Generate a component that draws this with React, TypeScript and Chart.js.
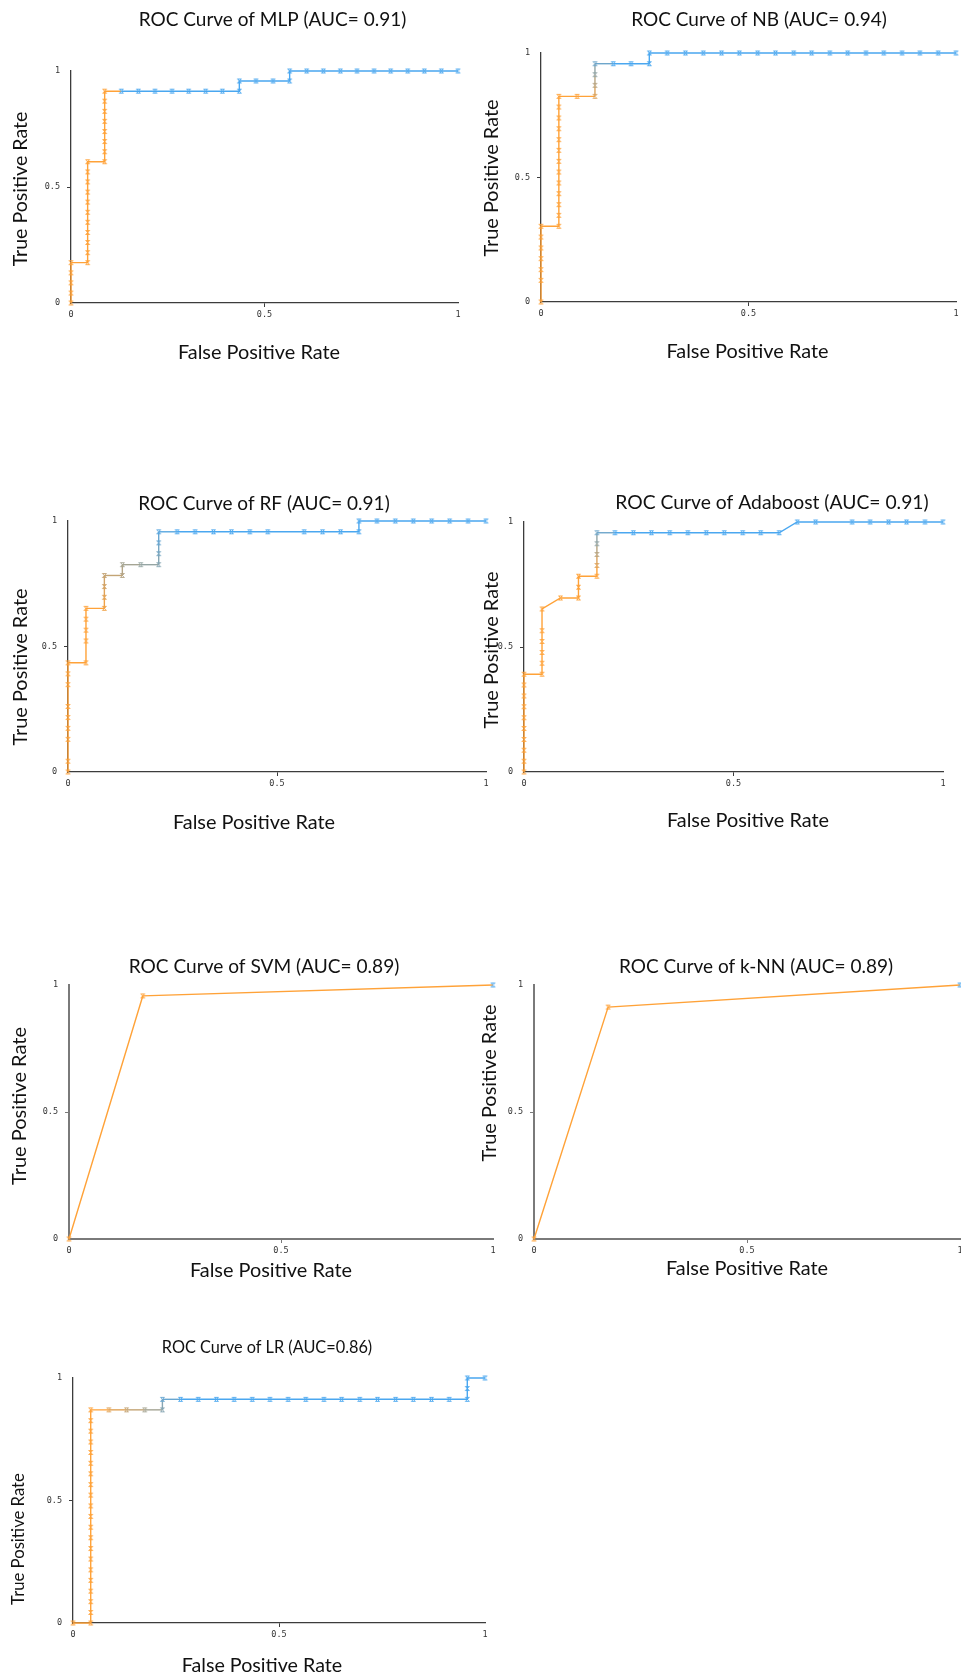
import React, { useEffect, useRef } from "react";
import { Chart, registerables } from "chart.js";

Chart.register(...registerables);

// ---------- data: [false positive rate, true positive rate] ----------
const MLP_ROC: number[][] = [
  [0, 0], [0, 0.043], [0, 0.087], [0, 0.13], [0, 0.174],
  [0.043, 0.174], [0.043, 0.217], [0.043, 0.261], [0.043, 0.304], [0.043, 0.348], [0.043, 0.391],
  [0.043, 0.435], [0.043, 0.478], [0.043, 0.522], [0.043, 0.565], [0.043, 0.609],
  [0.087, 0.609], [0.087, 0.652], [0.087, 0.696], [0.087, 0.739], [0.087, 0.783], [0.087, 0.826],
  [0.087, 0.87], [0.087, 0.913],
  [0.13, 0.913], [0.174, 0.913], [0.217, 0.913], [0.261, 0.913], [0.304, 0.913], [0.348, 0.913],
  [0.391, 0.913], [0.435, 0.913],
  [0.435, 0.957], [0.478, 0.957], [0.522, 0.957], [0.565, 0.957],
  [0.565, 1], [0.609, 1], [0.652, 1], [0.696, 1], [0.739, 1], [0.783, 1], [0.826, 1], [0.87, 1],
  [0.913, 1], [0.957, 1], [1, 1],
];

const NB_ROC: number[][] = [
  [0, 0], [0, 0.087], [0, 0.13], [0, 0.174], [0, 0.217], [0, 0.261], [0, 0.304],
  [0.043, 0.304], [0.043, 0.348], [0.043, 0.391], [0.043, 0.435], [0.043, 0.478], [0.043, 0.522],
  [0.043, 0.565], [0.043, 0.609], [0.043, 0.652], [0.043, 0.696], [0.043, 0.739], [0.043, 0.783],
  [0.043, 0.826],
  [0.087, 0.826], [0.13, 0.826],
  [0.13, 0.87], [0.13, 0.913], [0.13, 0.957],
  [0.174, 0.957], [0.217, 0.957], [0.261, 0.957],
  [0.261, 1], [0.304, 1], [0.348, 1], [0.391, 1], [0.435, 1], [0.478, 1], [0.522, 1], [0.565, 1],
  [0.609, 1], [0.652, 1], [0.696, 1], [0.739, 1], [0.783, 1], [0.826, 1], [0.87, 1], [0.913, 1],
  [0.957, 1], [1, 1],
];

const RF_ROC: number[][] = [
  [0, 0], [0, 0.043], [0, 0.13], [0, 0.174], [0, 0.217], [0, 0.261], [0, 0.348], [0, 0.391], [0, 0.435],
  [0.043, 0.435], [0.043, 0.522], [0.043, 0.565], [0.043, 0.609], [0.043, 0.652],
  [0.087, 0.652], [0.087, 0.696], [0.087, 0.739], [0.087, 0.783],
  [0.13, 0.783], [0.13, 0.826],
  [0.174, 0.826], [0.217, 0.826],
  [0.217, 0.87], [0.217, 0.913], [0.217, 0.957],
  [0.261, 0.957], [0.304, 0.957], [0.348, 0.957], [0.391, 0.957], [0.435, 0.957], [0.478, 0.957],
  [0.565, 0.957], [0.609, 0.957], [0.652, 0.957], [0.696, 0.957],
  [0.696, 1], [0.739, 1], [0.783, 1], [0.826, 1], [0.87, 1], [0.913, 1], [0.957, 1], [1, 1],
];

const ADA_ROC: number[][] = [
  [0, 0], [0, 0.043], [0, 0.087], [0, 0.13], [0, 0.174], [0, 0.217], [0, 0.261], [0, 0.304],
  [0, 0.348], [0, 0.391],
  [0.043, 0.391], [0.043, 0.435], [0.043, 0.478], [0.043, 0.522], [0.043, 0.565], [0.043, 0.652],
  [0.087, 0.696], [0.13, 0.696],
  [0.13, 0.739], [0.13, 0.783],
  [0.174, 0.783],
  [0.174, 0.826], [0.174, 0.87], [0.174, 0.913], [0.174, 0.957],
  [0.217, 0.957], [0.261, 0.957], [0.304, 0.957], [0.348, 0.957], [0.391, 0.957], [0.435, 0.957],
  [0.478, 0.957], [0.522, 0.957], [0.565, 0.957], [0.609, 0.957],
  [0.652, 1], [0.696, 1], [0.783, 1], [0.826, 1], [0.87, 1], [0.913, 1], [0.957, 1], [1, 1],
];

const SVM_ROC: number[][] = [[0, 0], [0.174, 0.957], [1, 1]];

const KNN_ROC: number[][] = [[0, 0], [0.174, 0.913], [1, 1]];

const LR_ROC: number[][] = [
  [0, 0], [0.043, 0],
  [0.043, 0.043], [0.043, 0.087], [0.043, 0.13], [0.043, 0.174], [0.043, 0.217], [0.043, 0.261],
  [0.043, 0.304], [0.043, 0.348], [0.043, 0.391], [0.043, 0.435], [0.043, 0.478], [0.043, 0.522],
  [0.043, 0.565], [0.043, 0.609], [0.043, 0.652], [0.043, 0.696], [0.043, 0.739], [0.043, 0.783],
  [0.043, 0.826], [0.043, 0.87],
  [0.087, 0.87], [0.13, 0.87], [0.174, 0.87], [0.217, 0.87],
  [0.217, 0.913],
  [0.261, 0.913], [0.304, 0.913], [0.348, 0.913], [0.391, 0.913], [0.435, 0.913], [0.478, 0.913],
  [0.522, 0.913], [0.565, 0.913], [0.609, 0.913], [0.652, 0.913], [0.696, 0.913], [0.739, 0.913],
  [0.783, 0.913], [0.826, 0.913], [0.87, 0.913], [0.913, 0.913], [0.957, 0.913],
  [0.957, 0.957], [0.957, 1], [1, 1],
];

const TITLES = [
  "ROC Curve of MLP (AUC= 0.91)",
  "ROC Curve of NB (AUC= 0.94)",
  "ROC Curve of RF (AUC= 0.91)",
  "ROC Curve of Adaboost (AUC= 0.91)",
  "ROC Curve of SVM (AUC= 0.89)",
  "ROC Curve of k-NN (AUC= 0.89)",
  "ROC Curve of LR (AUC=0.86)",
];
const SERIES = [MLP_ROC, NB_ROC, RF_ROC, ADA_ROC, SVM_ROC, KNN_ROC, LR_ROC];
const X_TITLE = "False Positive Rate";
const Y_TITLE = "True Positive Rate";
const AXIS_MIN = 0;
const AXIS_MAX = 1;
const AXIS_STEP = 0.5;

// ---------- styles / layout (page pixel positions, text lengths) ----------
const ORANGE = [255, 162, 56];
const BLUE = [74, 167, 240];
const BLEND = [[23, 24], [20, 25], [13, 25], [20, 25], [1, 2], [1, 2], [21, 27]];

const LAYOUT = [
  { x0: 71, x1: 458, yTop: 71, yBot: 303, tCx: 272.5, tCy: 19, tLen: 268, yCx: 21, yCy: 189, yLen: 155, xCx: 259, xCy: 353, xLen: 162, axis: "#3c3c3c", axisW: 1.3 },
  { x0: 541, x1: 956, yTop: 53, yBot: 302, tCx: 759, tCy: 19, tLen: 255, yCx: 492, yCy: 178, yLen: 157, xCx: 747.5, xCy: 352, xLen: 162, axis: "#3c3c3c", axisW: 1.3 },
  { x0: 68, x1: 486, yTop: 521, yBot: 772, tCx: 264, tCy: 503, tLen: 251, yCx: 21, yCy: 667, yLen: 157, xCx: 254, xCy: 823, xLen: 162, axis: "#3c3c3c", axisW: 1.3 },
  { x0: 524, x1: 943, yTop: 522, yBot: 772, tCx: 772, tCy: 503, tLen: 313, yCx: 492, yCy: 650, yLen: 157, xCx: 748, xCy: 821, xLen: 162, axis: "#3c3c3c", axisW: 1.3 },
  { x0: 69, x1: 493, yTop: 985, yBot: 1239, tCx: 264, tCy: 966, tLen: 271, yCx: 20, yCy: 1106, yLen: 158, xCx: 271, xCy: 1271, xLen: 162, axis: "#7a7a7a", axisW: 2 },
  { x0: 534, x1: 960, yTop: 985, yBot: 1239, tCx: 756, tCy: 966, tLen: 274, yCx: 490, yCy: 1083, yLen: 157, xCx: 747, xCy: 1269, xLen: 162, axis: "#7a7a7a", axisW: 2 },
  { x0: 73, x1: 485, yTop: 1378, yBot: 1623, tCx: 267, tCy: 1348, tLen: 211, yCx: 19, yCy: 1539, yLen: 132, xCx: 262, xCy: 1666, xLen: 161, axis: "#3c3c3c", axisW: 1.3 },
];

const TEXT_FONT = 'Lato, "Noto Sans", sans-serif';
const TICK_FONT = '"DejaVu Sans Mono", monospace';

let measureCtx: CanvasRenderingContext2D | null = null;
function fitFontSize(text: string, targetWidth: number): number {
  if (!measureCtx) measureCtx = document.createElement("canvas").getContext("2d");
  if (!measureCtx) return 20;
  measureCtx.font = `20px ${TEXT_FONT}`;
  const w = measureCtx.measureText(text).width || 1;
  return Math.round((20 * targetWidth) / w * 10) / 10;
}

function mixColor(i: number, blend: number[]): string {
  const [a, b] = blend;
  const t = Math.max(0, Math.min(1, (i - a) / (b - a)));
  const c = ORANGE.map((o, k) => Math.round(o + (BLUE[k] - o) * t));
  return `rgb(${c[0]},${c[1]},${c[2]})`;
}

const markerCache: Record<string, HTMLCanvasElement> = {};
function hourglassMarker(color: string): HTMLCanvasElement {
  if (markerCache[color]) return markerCache[color];
  const c = document.createElement("canvas");
  c.width = 7;
  c.height = 7;
  const g = c.getContext("2d");
  if (g) {
    g.strokeStyle = color;
    g.globalAlpha = 0.9;
    g.lineWidth = 1;
    g.beginPath();
    g.moveTo(1.5, 1.5); g.lineTo(5.5, 1.5);
    g.moveTo(1.5, 5.5); g.lineTo(5.5, 5.5);
    g.moveTo(1.5, 1.5); g.lineTo(5.5, 5.5);
    g.moveTo(5.5, 1.5); g.lineTo(1.5, 5.5);
    g.stroke();
  }
  markerCache[color] = c;
  return c;
}

function RocPanel({ index }: { index: number }) {
  const ref = useRef<HTMLCanvasElement | null>(null);
  const lay = LAYOUT[index];
  const tSize = fitFontSize(TITLES[index], lay.tLen);
  const ySize = fitFontSize(Y_TITLE, lay.yLen);
  const xSize = fitFontSize(X_TITLE, lay.xLen);
  const lhT = tSize * 1.2;
  const L = Math.floor(lay.yCx - 14);
  const T = Math.round(lay.tCy - lhT / 2);
  const W = Math.round(2 * (lay.tCx - L));
  const H = Math.round(lay.xCy + 14 - T);
  const padRight = L + W - lay.x1;
  const yw = lay.x0 - L;
  const xh = T + H - lay.yBot;
  const titleBottom = lay.yTop - (T + lhT);

  useEffect(() => {
    const canvas = ref.current;
    if (!canvas) return;
    const data = SERIES[index];
    const blend = BLEND[index];
    const pointColors = data.map((_, i) => mixColor(i, blend));
    const markers = pointColors.map((c) => hourglassMarker(c));

    const axisTitles = {
      id: "axisTitles" + index,
      afterDraw(chart: any) {
        const ctx = chart.ctx;
        ctx.save();
        ctx.fillStyle = "#111";
        ctx.textAlign = "center";
        ctx.textBaseline = "middle";
        ctx.font = `${ySize}px ${TEXT_FONT}`;
        ctx.translate(lay.yCx - L, lay.yCy - T);
        ctx.rotate(-Math.PI / 2);
        ctx.fillText(Y_TITLE, 0, 0);
        ctx.restore();
        ctx.save();
        ctx.fillStyle = "#111";
        ctx.textAlign = "center";
        ctx.textBaseline = "middle";
        ctx.font = `${xSize}px ${TEXT_FONT}`;
        ctx.fillText(X_TITLE, lay.xCx - L, lay.xCy - T);
        ctx.restore();
      },
    };

    const tickColor = (c: any) => (c.tick && c.tick.value === AXIS_STEP ? lay.axis : "rgba(0,0,0,0)");
    const tickLabel = (v: any) => `${Number(v)}`;

    const chart = new Chart(canvas, {
      type: "line",
      data: {
        datasets: [
          {
            data: data.map(([x, y]) => ({ x, y })),
            borderWidth: 1.4,
            tension: 0,
            fill: false,
            clip: false as any,
            pointStyle: (c: any) => markers[c.dataIndex] || "crossRot",
            pointRadius: 3,
            pointBorderWidth: 1,
            pointBorderColor: pointColors,
            pointBackgroundColor: pointColors,
            borderColor: pointColors[0],
            segment: {
              borderColor: (c: any) => pointColors[c.p0DataIndex],
            },
          },
        ],
      },
      options: {
        responsive: false,
        animation: false,
        events: [],
        layout: { padding: 0 },
        plugins: {
          legend: { display: false },
          tooltip: { enabled: false },
          title: {
            display: true,
            text: TITLES[index],
            color: "#111",
            font: { family: TEXT_FONT, size: tSize, weight: "normal", lineHeight: 1.2 },
            padding: { top: 0, bottom: titleBottom },
          },
        },
        scales: {
          x: {
            type: "linear",
            min: AXIS_MIN,
            max: AXIS_MAX,
            offset: false,
            afterFit: (s: any) => {
              s.height = xh;
              s.paddingLeft = 0;
              s.paddingRight = padRight;
            },
            ticks: {
              stepSize: AXIS_STEP,
              padding: 3,
              maxRotation: 0,
              color: "#333",
              callback: tickLabel,
              font: { family: TICK_FONT, size: 8.5 },
            },
            grid: { drawOnChartArea: false, drawTicks: true, tickLength: 4, color: tickColor, lineWidth: 1 },
            border: { display: true, color: lay.axis, width: lay.axisW },
          },
          y: {
            type: "linear",
            min: AXIS_MIN,
            max: AXIS_MAX,
            afterFit: (s: any) => {
              s.width = yw;
              s.paddingTop = 0;
              s.paddingBottom = 0;
            },
            ticks: {
              stepSize: AXIS_STEP,
              padding: 7,
              color: "#333",
              callback: tickLabel,
              font: { family: TICK_FONT, size: 8.5 },
            },
            grid: { drawOnChartArea: false, drawTicks: true, tickLength: 4, color: tickColor, lineWidth: 1 },
            border: { display: true, color: lay.axis, width: lay.axisW },
          },
        },
      },
      plugins: [axisTitles],
    } as any);
    return () => chart.destroy();
  }, []);

  return (
    <canvas
      ref={ref}
      width={W}
      height={H}
      style={{ position: "absolute", left: L, top: T, width: W, height: H }}
    />
  );
}

export default function App() {
  return (
    <div
      style={{
        position: "absolute",
        left: 0,
        top: 0,
        width: 961,
        height: 1680,
        overflow: "hidden",
        background: "#fff",
      }}
    >
      {SERIES.map((_, i) => (
        <RocPanel key={i} index={i} />
      ))}
    </div>
  );
}
